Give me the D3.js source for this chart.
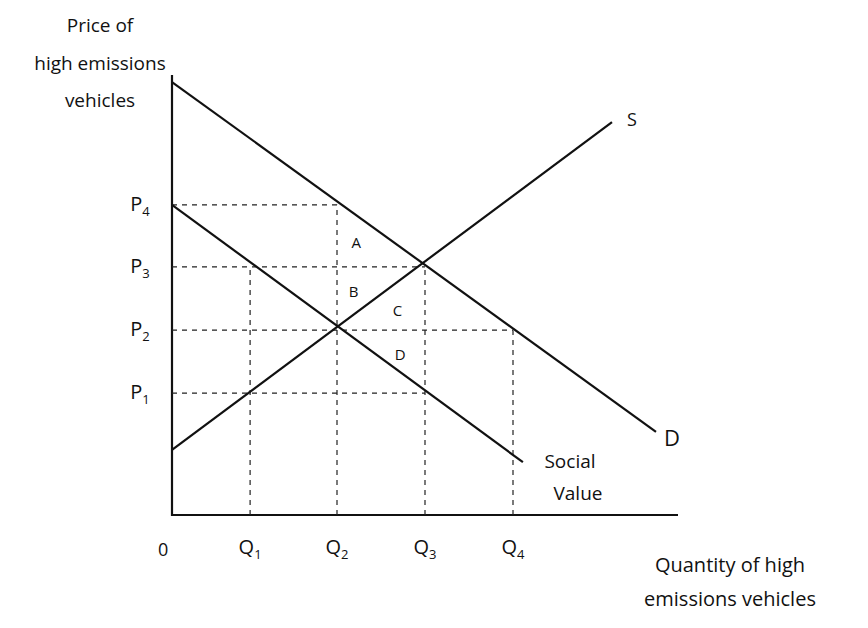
<!DOCTYPE html>
<html><head><meta charset="utf-8">
<script src="https://cdn.jsdelivr.net/npm/d3@7"></script>
<style>body{margin:0;background:#fff}text{font-family:"Open Sans",sans-serif;fill:#111}</style>
</head><body><svg width="868" height="628"></svg>
<script>
// data (quantity / price units)
const qLevels = [{n:"1",v:14.2},{n:"2",v:30},{n:"3",v:46},{n:"4",v:62}];
const pLevels = [{n:"1",v:27.7},{n:"2",v:42},{n:"3",v:56.4},{n:"4",v:70.5}];
const demand = [[0,98.4],[88,18.9]];
const supply = [[0,14.8],[80,89.3]];
const social = [[0,70.5],[63.8,12]];
// dashed guides: [q, p] corner of each
const hDash = [[30,70.5],[46,56.4],[62,42],[46,27.7]];
const vDash = [[14.2,56.4],[30,70.5],[46,56.4],[62,42]];
const areas = [{t:"A",q:33.5,p:62},{t:"B",q:33,p:51},{t:"C",q:41,p:46.5},{t:"D",q:41.5,p:36.5}];

const svg=d3.select("svg");
const x=d3.scaleLinear().domain([0,100]).range([172,722]);
const y=d3.scaleLinear().domain([0,100]).range([515,75]);
const line=d3.line().x(d=>x(d[0])).y(d=>y(d[1]));
// axes
svg.append("path").attr("d",line([[0,100],[0,0],[92,0]])).attr("fill","none").attr("stroke","#111").attr("stroke-width",2.2);
hDash.forEach(d=>svg.append("path").attr("d",line([[0,d[1]],d])).attr("stroke","#222").attr("stroke-width",1.2).attr("stroke-dasharray","5,5"));
vDash.forEach(d=>svg.append("path").attr("d",line([[d[0],0],d])).attr("stroke","#222").attr("stroke-width",1.2).attr("stroke-dasharray","5,5"));
[demand,supply,social].forEach(l=>svg.append("path").attr("d",line(l)).attr("stroke","#111").attr("stroke-width",2.2).attr("fill","none"));
function sub(tx,px,py,main,s,size){const t=svg.append("text").attr("x",px).attr("y",py).attr("font-size",size).attr("text-anchor","middle");t.append("tspan").text(main);t.append("tspan").attr("font-size",size*0.65).attr("dy",5).text(s);}
qLevels.forEach(q=>sub(null,x(q.v),554,"Q",q.n,20));
pLevels.forEach(p=>sub(null,140,y(p.v)+6,"P",p.n,20));
svg.append("text").attr("x",158).attr("y",556).attr("font-size",18).text("0");
areas.forEach(a=>svg.append("text").attr("x",x(a.q)).attr("y",y(a.p)+6).attr("font-size",15).attr("text-anchor","middle").text(a.t));
const lab=(t,px,py,s,anc="middle")=>svg.append("text").attr("x",px).attr("y",py).attr("font-size",s).attr("text-anchor",anc).text(t);
lab("Price of",100,32,19);lab("high emissions",100,70,19);lab("vehicles",100,107,19);
lab("S",632,126,18);lab("D",672,446,22);
lab("Social",570,468,19);lab("Value",578,500,19);
lab("Quantity of high",730,572,20);lab("emissions vehicles",730,606,20);
</script></body></html>
